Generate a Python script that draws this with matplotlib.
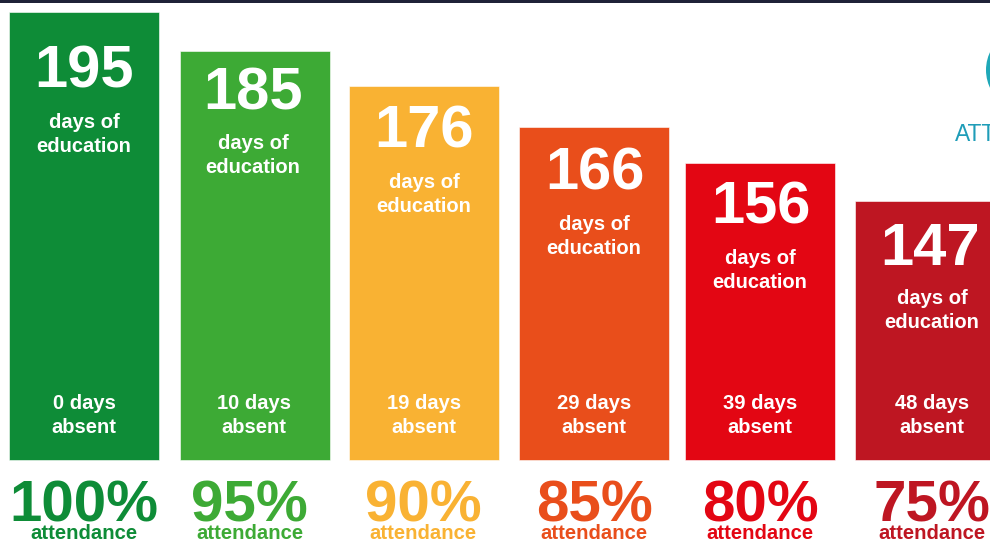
import matplotlib.pyplot as plt
from matplotlib.patches import Wedge

plt.rcParams['font.family'] = ['Liberation Sans', 'DejaVu Sans']

days_education = [195, 185, 176, 166, 156, 147]
days_absent = [0, 10, 19, 29, 39, 48]
attendance = [100, 95, 90, 85, 80, 75]
# bars are not to scale in the original, heights read off in pixels
bar_heights = [448, 409, 374, 333, 297, 259]
colors = ['#0E8C37', '#3DAA35', '#F9B233', '#E94E1B', '#E30613', '#BE1622']

bar_left = [9, 180, 349, 519, 685, 855]
bar_width = 150
num_x = [84, 253, 424, 595, 761, 930]
label_x = [84, 253, 424, 594, 760, 932]
absent_x = [84, 254, 424, 594, 760, 932]
pct_x = [84, 249, 423, 594, 760, 932]
att_x = [84, 250, 423, 594, 760, 932]
num_base = [87, 109, 148, 189, 224, 265]
days_base = [128, 149, 188, 230, 264, 304]

BASE = 460


def py(p):
    # pixel row in the picture -> height above the bar baseline
    return BASE - p


fig = plt.figure(figsize=(9.9, 5.39), dpi=100)
ax = fig.add_axes([0, 0, 1, 1])
ax.set_xlim(0, 990)
ax.set_ylim(py(539), py(0))
ax.axis('off')

ax.axhspan(py(3), py(0), color='#1F2238', lw=0)

ax.bar(bar_left, bar_heights, width=bar_width, align='edge', color=colors,
       edgecolor='#FFFFFF', linewidth=0.4)

for i in range(len(days_education)):
    ax.text(num_x[i], py(num_base[i]), str(days_education[i]), color='white', fontsize=43,
            fontweight='bold', ha='center', va='baseline')
    ax.text(label_x[i], py(days_base[i]), 'days of', color='white', fontsize=14.5,
            fontweight='bold', ha='center', va='baseline')
    ax.text(label_x[i], py(days_base[i] + 24), 'education', color='white', fontsize=14.5,
            fontweight='bold', ha='center', va='baseline')
    ax.text(absent_x[i], py(409), str(days_absent[i]) + ' days', color='white', fontsize=14.5,
            fontweight='bold', ha='center', va='baseline')
    ax.text(absent_x[i], py(433), 'absent', color='white', fontsize=14.5,
            fontweight='bold', ha='center', va='baseline')
    ax.text(pct_x[i], py(522), str(attendance[i]) + '%', color=colors[i], fontsize=42,
            fontweight='bold', ha='center', va='baseline')
    ax.text(att_x[i], py(539), 'attendance', color=colors[i], fontsize=14.6,
            fontweight='bold', ha='center', va='baseline')

# bit of the logo cut off at the right edge
ax.add_patch(Wedge((1028, py(70)), 42, 150, 210, width=4, color='#1FA8B8', lw=0))
ax.text(955, py(141), 'ATTENDANCE', color='#1F9DB8', fontsize=16.5, ha='left', va='baseline')

fig.savefig('out.png', dpi=100)
